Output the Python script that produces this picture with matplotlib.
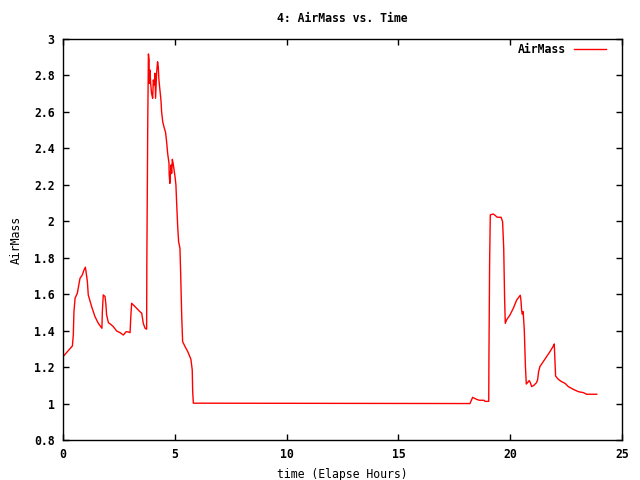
import matplotlib
matplotlib.use('Agg')
import matplotlib.pyplot as plt
from matplotlib.ticker import FuncFormatter, MultipleLocator

# tiempo (horas) y masa de aire
tiempo = [0.0, 0.42, 0.46, 0.49, 0.54, 0.64, 0.72, 0.76, 0.86, 0.94, 1.0, 1.03, 1.09, 1.13,
          1.28, 1.43, 1.58, 1.74, 1.76, 1.80, 1.88, 1.92, 1.95, 2.03, 2.13, 2.25, 2.40, 2.55,
          2.70, 2.82, 2.92, 3.0, 3.03, 3.07, 3.22, 3.44, 3.52, 3.59, 3.67, 3.74, 3.75, 3.79,
          3.82, 3.85, 3.86, 3.89, 3.92, 3.96, 4.01, 4.04, 4.08, 4.11, 4.14, 4.19, 4.23, 4.26,
          4.29, 4.34, 4.38, 4.41, 4.46, 4.52, 4.59, 4.64, 4.68, 4.74, 4.75, 4.78, 4.83, 4.86,
          4.89, 4.93, 4.98, 5.01, 5.05, 5.08, 5.13, 5.17, 5.23, 5.26, 5.31, 5.35, 5.46, 5.58,
          5.72, 5.78, 5.80, 5.83,
          18.20, 18.32, 18.50, 18.62, 18.83, 18.87, 19.04, 19.05, 19.08, 19.11, 19.24, 19.32,
          19.42, 19.59, 19.66, 19.71, 19.75, 19.78, 19.84, 19.99, 20.14, 20.29, 20.38, 20.45,
          20.48, 20.51, 20.54, 20.58, 20.63, 20.68, 20.72, 20.78, 20.85, 20.90, 20.96, 21.06,
          21.18, 21.23, 21.27, 21.33, 21.48, 21.63, 21.78, 21.93, 21.97, 22.0, 22.03, 22.15,
          22.30, 22.45, 22.60, 22.82, 23.05, 23.27, 23.42, 23.87]
airmass = [1.257, 1.316, 1.376, 1.504, 1.578, 1.605, 1.66, 1.687, 1.705, 1.733, 1.748, 1.724, 1.669, 1.596,
           1.532, 1.477, 1.44, 1.413, 1.504, 1.596, 1.587, 1.541, 1.486, 1.444, 1.435, 1.422, 1.398, 1.389,
           1.376, 1.394, 1.393, 1.389, 1.471, 1.55, 1.532, 1.504, 1.496, 1.44, 1.413, 1.408, 1.782, 2.538,
           2.918, 2.885, 2.757, 2.83, 2.757, 2.702, 2.675, 2.775, 2.748, 2.812, 2.675, 2.82, 2.875, 2.848,
           2.775, 2.711, 2.665, 2.601, 2.546, 2.516, 2.486, 2.428, 2.373, 2.318, 2.254, 2.208, 2.309, 2.263,
           2.34, 2.314, 2.272, 2.245, 2.2, 2.108, 1.97, 1.888, 1.852, 1.724, 1.477, 1.34, 1.312, 1.285,
           1.243, 1.184, 1.065, 1.002,
           1.0, 1.034, 1.023, 1.018, 1.018, 1.012, 1.012, 1.267, 1.778, 2.035, 2.04, 2.033,
           2.022, 2.022, 1.998, 1.852, 1.578, 1.44, 1.459, 1.486, 1.523, 1.568, 1.583, 1.594,
           1.568, 1.513, 1.491, 1.504, 1.404, 1.206, 1.107, 1.115, 1.126, 1.115, 1.093, 1.10,
           1.115, 1.133, 1.175, 1.203, 1.23, 1.257, 1.285, 1.316, 1.327, 1.239, 1.151, 1.133,
           1.12, 1.111, 1.093, 1.078, 1.065, 1.06, 1.051, 1.051]

plt.rcParams['font.family'] = 'DejaVu Sans Mono'
plt.rcParams['font.weight'] = 'bold'
plt.rcParams['font.size'] = 8.3

fig = plt.figure(figsize=(6.4, 4.8), dpi=100)
ax = fig.add_axes([63/640, 40/480, 559/640, 401/480])

ax.plot(tiempo, airmass, color='red', linewidth=1, label='AirMass')

ax.set_xlim(0, 25)
ax.set_ylim(0.8, 3)
ax.xaxis.set_major_locator(MultipleLocator(5))
ax.yaxis.set_major_locator(MultipleLocator(0.2))
ax.yaxis.set_major_formatter(FuncFormatter(lambda v, p: '%g' % round(v, 2)))
ax.tick_params(direction='in', length=4, top=True, right=True, width=1, color='black', pad=6)
for s in ax.spines.values():
    s.set_linewidth(1)

ax.set_xlabel('time (Elapse Hours)', labelpad=5)
ax.set_ylabel('AirMass', labelpad=8)
ax.set_title('4: AirMass vs. Time', pad=12, fontweight='bold', fontsize=8.3)
ax.legend(loc='upper right', frameon=False, markerfirst=False, handlelength=2.8,
          handletextpad=0.7, borderaxespad=0, borderpad=0,
          bbox_to_anchor=(606/640, 1 - 43/480), bbox_transform=fig.transFigure)

fig.savefig('out.png', dpi=100)
